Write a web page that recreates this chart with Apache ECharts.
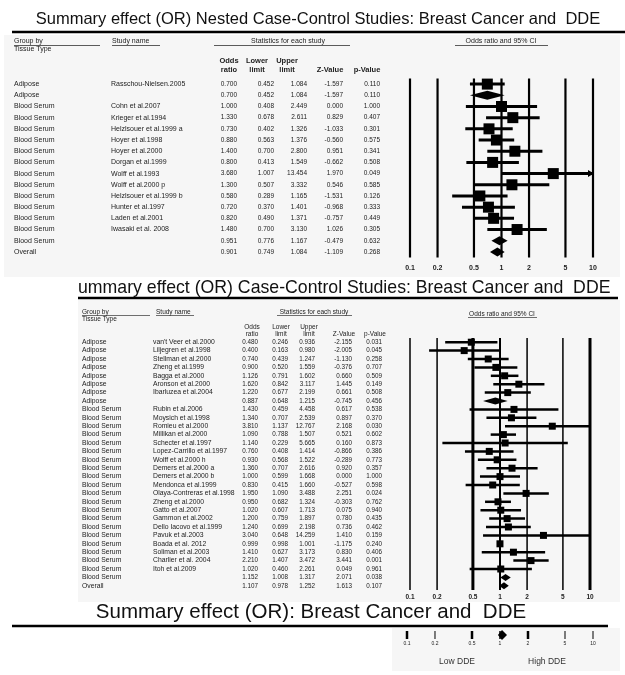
<!DOCTYPE html>
<html>
<head>
<meta charset="utf-8">
<script src="https://cdn.jsdelivr.net/npm/echarts@6/dist/echarts.min.js"></script>
<style>
  html, body { margin: 0; padding: 0; background: #fff; }
  #chart { width: 625px; height: 675px; }
</style>
</head>
<body>
<div id="chart"></div>
<script>
  // odds-ratio scale shared by all three panels
  const ticks = [0.1, 0.2, 0.5, 1, 2, 5, 10];
  const tickLabels = ['0.1', '0.2', '0.5', '1', '2', '5', '10'];

  // nested case-control studies
  const nestGroups = ['Adipose', 'Adipose', 'Blood Serum', 'Blood Serum', 'Blood Serum', 'Blood Serum',
    'Blood Serum', 'Blood Serum', 'Blood Serum', 'Blood Serum', 'Blood Serum', 'Blood Serum',
    'Blood Serum', 'Blood Serum', 'Blood Serum', 'Overall'];
  const nestStudies = ['Rasschou-Nielsen.2005', '', 'Cohn et al.2007', 'Krieger et al.1994',
    'Helzlsouer et al.1999 a', 'Hoyer et al.1998', 'Hoyer et al.2000', 'Dorgan et al.1999',
    'Wolff et al.1993', 'Wolff et al.2000 p', 'Helzlsouer et al.1999 b', 'Hunter et al.1997',
    'Laden et al.2001', 'Iwasaki et al. 2008', '', ''];
  const nestOr = [0.700, 0.700, 1.000, 1.330, 0.730, 0.880, 1.400, 0.800, 3.680, 1.300, 0.580, 0.720, 0.820, 1.480, 0.951, 0.901];
  const nestLo = [0.452, 0.452, 0.408, 0.678, 0.402, 0.563, 0.700, 0.413, 1.007, 0.507, 0.289, 0.370, 0.490, 0.700, 0.776, 0.749];
  const nestHi = [1.084, 1.084, 2.449, 2.611, 1.326, 1.376, 2.800, 1.549, 13.454, 3.332, 1.165, 1.401, 1.371, 3.130, 1.167, 1.084];
  const nestZ = [-1.597, -1.597, 0.000, 0.829, -1.033, -0.560, 0.951, -0.662, 1.970, 0.546, -1.531, -0.968, -0.757, 1.026, -0.479, -1.109];
  const nestP = [0.110, 0.110, 1.000, 0.407, 0.301, 0.575, 0.341, 0.508, 0.049, 0.585, 0.126, 0.333, 0.449, 0.305, 0.632, 0.268];

  // case-control studies
  const ccGroups = ['Adipose', 'Adipose', 'Adipose', 'Adipose', 'Adipose', 'Adipose', 'Adipose', 'Adipose',
    'Blood Serum', 'Blood Serum', 'Blood Serum', 'Blood Serum', 'Blood Serum', 'Blood Serum', 'Blood Serum',
    'Blood Serum', 'Blood Serum', 'Blood Serum', 'Blood Serum', 'Blood Serum', 'Blood Serum', 'Blood Serum',
    'Blood Serum', 'Blood Serum', 'Blood Serum', 'Blood Serum', 'Blood Serum', 'Blood Serum', 'Blood Serum', 'Overall'];
  const ccStudies = ["van't Veer et al.2000", 'Liljegren et al.1998', 'Stellman et al.2000', 'Zheng et al.1999',
    'Bagga et al.2000', 'Aronson et al.2000', 'Ibarluzea et al.2004', '',
    'Rubin et al.2006', 'Moysich et al.1998', 'Romieu et al.2000', 'Millikan et al.2000', 'Schecter et al.1997',
    'Lopez-Carrillo et al.1997', 'Wolff et al.2000 h', 'Demers et al.2000 a', 'Demers et al.2000 b',
    'Mendonca et al.1999', 'Olaya-Contreras et al.1998', 'Zheng et al.2000', 'Gatto et al.2007',
    'Gammon et al.2002', 'Dello Iacovo et al.1999', 'Pavuk et al.2003', 'Boada et al. 2012',
    'Soliman et al.2003', 'Charlier et al. 2004', 'Itoh et al.2009', '', ''];
  const ccOr = [0.480, 0.400, 0.740, 0.900, 1.126, 1.620, 1.220, 0.887,
    1.430, 1.340, 3.810, 1.090, 1.140, 0.760, 0.930, 1.360, 1.000, 0.830, 1.950, 0.950, 1.020,
    1.200, 1.240, 3.040, 0.999, 1.410, 2.210, 1.020, 1.152, 1.107];
  const ccLo = [0.246, 0.163, 0.439, 0.520, 0.791, 0.842, 0.677, 0.648,
    0.459, 0.707, 1.137, 0.788, 0.229, 0.408, 0.568, 0.707, 0.599, 0.415, 1.090, 0.682, 0.607,
    0.759, 0.699, 0.648, 0.998, 0.627, 1.407, 0.460, 1.008, 0.978];
  const ccHi = [0.936, 0.980, 1.247, 1.559, 1.602, 3.117, 2.199, 1.215,
    4.458, 2.539, 12.767, 1.507, 5.665, 1.414, 1.522, 2.616, 1.668, 1.660, 3.488, 1.324, 1.713,
    1.897, 2.198, 14.259, 1.001, 3.173, 3.472, 2.261, 1.317, 1.252];
  const ccZ = [-2.155, -2.005, -1.130, -0.376, 0.660, 1.445, 0.661, -0.745,
    0.617, 0.897, 2.168, 0.521, 0.160, -0.866, -0.289, 0.920, 0.000, -0.527, 2.251, -0.303, 0.075,
    0.780, 0.736, 1.410, -1.175, 0.830, 3.441, 0.049, 2.071, 1.613];
  const ccP = [0.031, 0.045, 0.258, 0.707, 0.509, 0.149, 0.508, 0.456,
    0.538, 0.370, 0.030, 0.602, 0.873, 0.386, 0.773, 0.357, 1.000, 0.598, 0.024, 0.762, 0.940,
    0.435, 0.462, 0.159, 0.240, 0.406, 0.001, 0.961, 0.038, 0.107];

  // overall summary diamond
  const sumStudies = [''];
  const sumOr = [1.05];
  const sumLo = [0.95];
  const sumHi = [1.19];

  const FONT = 'Liberation Sans';
  const L = v => Math.log10(v);
  const fmt = v => v.toFixed(3);

  function tickFormatter(v) {
    const i = ticks.findIndex(t => Math.abs(L(t) - v) < 1e-6);
    return i < 0 ? '' : tickLabels[i];
  }

  function forestData(or, lo, hi) {
    return or.map((v, i) => [L(lo[i]), L(v), L(hi[i]), i]);
  }

  // CI line + square for studies, diamond for pooled rows (blank study name)
  function forestRender(studies, sq, lw, dh, arrow) {
    return function (params, api) {
      const row = api.value(3);
      const cs = params.coordSys;
      const cx = x => Math.max(cs.x, Math.min(cs.x + cs.width, x));
      const y = api.coord([0, row])[1];
      const xl = cx(api.coord([api.value(0), row])[0]);
      const xo = api.coord([api.value(1), row])[0];
      const xh = cx(api.coord([api.value(2), row])[0]);
      const fill = { fill: '#000' };
      if (studies[row] === '') {
        return { type: 'polygon', shape: { points: [[xl, y], [xo, y - dh / 2], [xh, y], [xo, y + dh / 2]] }, style: fill };
      }
      const kids = [
        { type: 'line', shape: { x1: xl, y1: y, x2: xh, y2: y }, style: { stroke: '#000', lineWidth: lw } },
        { type: 'rect', shape: { x: xo - sq / 2, y: y - sq / 2, width: sq, height: sq }, style: fill }
      ];
      if (arrow && api.value(2) > 1) {
        kids.push({ type: 'polygon', shape: { points: [[xh + 1, y], [xh - 5, y - 3.5], [xh - 5, y + 3.5]] }, style: fill });
      }
      return { type: 'group', children: kids };
    };
  }

  function refRender(widths) {
    return function (params, api) {
      const cs = params.coordSys;
      const x = api.coord([api.value(0), 0])[0];
      return { type: 'line', shape: { x1: x, y1: cs.y, x2: x, y2: cs.y + cs.height },
        style: { stroke: '#000', lineWidth: widths[params.dataIndex] } };
    };
  }

  function oddsAxis(grid, margin, size, weight) {
    return {
      type: 'value', gridIndex: grid, min: -1, max: 1,
      axisLine: { show: false }, axisTick: { show: false }, splitLine: { show: false },
      axisLabel: { customValues: ticks.map(L), formatter: tickFormatter, margin: margin,
        fontSize: size, fontWeight: weight, color: '#222', fontFamily: FONT }
    };
  }

  function rowAxis(grid, n) {
    return { type: 'category', gridIndex: grid, inverse: true, show: false,
      data: Array.from({ length: n }, (_, i) => String(i)) };
  }

  // table columns drawn as extra category axes sharing the forest rows
  function colAxis(grid, gridLeft, labels, x, align, size) {
    return {
      type: 'category', gridIndex: grid, inverse: true, position: 'left', offset: gridLeft - x,
      data: labels,
      axisLine: { show: false }, axisTick: { show: false }, splitLine: { show: false },
      axisLabel: { interval: 0, margin: 0, align: align, fontSize: size, color: '#222', fontFamily: FONT }
    };
  }

  const yAxes = [];
  function addTable(grid, left, groups, studies, or, lo, hi, z, p, cols, nameSize, numSize) {
    yAxes.push(rowAxis(grid, groups.length));
    const main = yAxes.length - 1;
    yAxes.push(colAxis(grid, left, groups, cols[0], 'left', nameSize));
    yAxes.push(colAxis(grid, left, studies, cols[1], 'left', nameSize));
    [or, lo, hi, z, p].forEach((arr, k) => {
      yAxes.push(colAxis(grid, left, arr.map(fmt), cols[k + 2], 'right', numSize));
    });
    return main;
  }

  const yTop = addTable(0, 410, nestGroups, nestStudies, nestOr, nestLo, nestHi, nestZ, nestP,
    [14, 111, 237, 274, 307, 343, 380], 7, 6.5);
  const yMid = addTable(1, 410, ccGroups, ccStudies, ccOr, ccLo, ccHi, ccZ, ccP,
    [82, 153, 258, 288, 315, 352, 382], 6.8, 6.3);
  yAxes.push(rowAxis(2, 1));
  const yBot = yAxes.length - 1;

  const refData = ticks.map(t => [L(t), 0]);

  function text(x, y, s, font, align, color) {
    return { type: 'text', x: x, y: y, z: 10,
      style: { text: s, font: font, fill: color || '#222', align: align || 'left', verticalAlign: 'middle' } };
  }
  function hline(x1, x2, y, w, color) {
    return { type: 'line', z: 10, shape: { x1: x1, y1: y, x2: x2, y2: y }, style: { stroke: color || '#000', lineWidth: w } };
  }
  function panel(x, y, w, h) {
    return { type: 'rect', z: -10, shape: { x: x, y: y, width: w, height: h }, style: { fill: '#f6f6f6' } };
  }

  const f7 = '7px "' + FONT + '"';
  const f65 = '6.5px "' + FONT + '"';
  const b75 = 'bold 7.5px "' + FONT + '"';

  const graphics = [
    panel(4, 35, 616, 242),
    panel(78, 300, 542, 302),
    panel(392, 628, 228, 43),

    // panel 1: nested case-control
    text(318, 19, 'Summary effect (OR) Nested Case-Control Studies: Breast Cancer and  DDE', '16.5px "' + FONT + '"', 'center', '#111'),
    hline(12, 625, 32, 2.5),
    text(14, 41, 'Group by', f7), hline(14, 100, 45.5, 0.8, '#333'),
    text(14, 49, 'Tissue Type', f7),
    text(112, 41, 'Study name', f7), hline(112, 160, 45.5, 0.8, '#333'),
    text(288, 41, 'Statistics for each study', f7, 'center'), hline(214, 350, 45.5, 0.8, '#333'),
    text(501, 41, 'Odds ratio and 95% CI', f7, 'center'), hline(455, 548, 45.5, 0.8, '#333'),
    text(229, 61, 'Odds', b75, 'center'), text(229, 70, 'ratio', b75, 'center'),
    text(257, 61, 'Lower', b75, 'center'), text(257, 70, 'limit', b75, 'center'),
    text(287, 61, 'Upper', b75, 'center'), text(287, 70, 'limit', b75, 'center'),
    text(330, 70, 'Z-Value', b75, 'center'),
    text(367, 70, 'p-Value', b75, 'center'),

    // panel 2: case-control
    text(78, 288, 'ummary effect (OR) Case-Control Studies: Breast Cancer and  DDE', '17.7px "' + FONT + '"', 'left', '#111'),
    hline(78, 618, 298, 2.5),
    text(82, 312, 'Group by', f65), hline(82, 150, 315.5, 0.7, '#333'),
    text(82, 319, 'Tissue Type', f65),
    text(156, 312, 'Study name', f65), hline(156, 194, 315.5, 0.7, '#333'),
    text(314, 312, 'Statistics for each study', f65, 'center'), hline(277, 352, 315.5, 0.7, '#333'),
    text(502, 314, 'Odds ratio and 95% CI', f65, 'center'), hline(468, 537, 317.5, 0.7, '#333'),
    text(252, 327, 'Odds', f65, 'center'), text(252, 334, 'ratio', f65, 'center'),
    text(281, 327, 'Lower', f65, 'center'), text(281, 334, 'limit', f65, 'center'),
    text(309, 327, 'Upper', f65, 'center'), text(309, 334, 'limit', f65, 'center'),
    text(344, 334, 'Z-Value', f65, 'center'),
    text(375, 334, 'p-Value', f65, 'center'),

    // panel 3: overall summary
    text(311, 612, 'Summary effect (OR): Breast Cancer and  DDE', '20.5px "' + FONT + '"', 'center', '#111'),
    hline(12, 608, 626, 2.5),
    text(457, 662, 'Low DDE', '8.5px "' + FONT + '"', 'center', '#333'),
    text(547, 662, 'High DDE', '8.5px "' + FONT + '"', 'center', '#333')
  ];

  const option = {
    backgroundColor: '#fff',
    animation: false,
    grid: [
      { left: 410, top: 78.5, width: 183, height: 179 },
      { left: 410, top: 338, width: 180, height: 252 },
      { left: 407, top: 631, width: 186, height: 8 }
    ],
    xAxis: [
      oddsAxis(0, 7, 7, 'bold'),
      oddsAxis(1, 4, 6.5, 'bold'),
      oddsAxis(2, 2, 5, 'normal')
    ],
    yAxis: yAxes,
    graphic: graphics,
    series: [
      { type: 'custom', xAxisIndex: 0, yAxisIndex: yTop, data: refData, encode: { x: 0, y: 1 },
        renderItem: refRender([2.2, 2.2, 2.2, 2.2, 2.2, 2.2, 2.2]), silent: true, z: 2 },
      { type: 'custom', xAxisIndex: 0, yAxisIndex: yTop, data: forestData(nestOr, nestLo, nestHi),
        encode: { x: [0, 1, 2], y: 3 }, clip: false, z: 3,
        renderItem: forestRender(nestStudies, 11, 3, 9, true) },

      { type: 'custom', xAxisIndex: 1, yAxisIndex: yMid, data: refData, encode: { x: 0, y: 1 },
        renderItem: refRender([1.5, 1.5, 3, 2, 1.5, 1.5, 3]), silent: true, z: 2 },
      { type: 'custom', xAxisIndex: 1, yAxisIndex: yMid, data: forestData(ccOr, ccLo, ccHi),
        encode: { x: [0, 1, 2], y: 3 }, clip: false, z: 3,
        renderItem: forestRender(ccStudies, 7, 2.5, 7, false) },

      { type: 'custom', xAxisIndex: 2, yAxisIndex: yBot, data: refData, encode: { x: 0, y: 1 },
        renderItem: refRender([2.5, 1, 2.5, 1.5, 2.5, 1, 1]), silent: true, z: 2 },
      { type: 'custom', xAxisIndex: 2, yAxisIndex: yBot, data: forestData(sumOr, sumLo, sumHi),
        encode: { x: [0, 1, 2], y: 3 }, clip: false, z: 3,
        renderItem: forestRender(sumStudies, 6, 2, 10, false) }
    ]
  };

  const chart = echarts.init(document.getElementById('chart'));
  chart.setOption(option);
</script>
</body>
</html>
